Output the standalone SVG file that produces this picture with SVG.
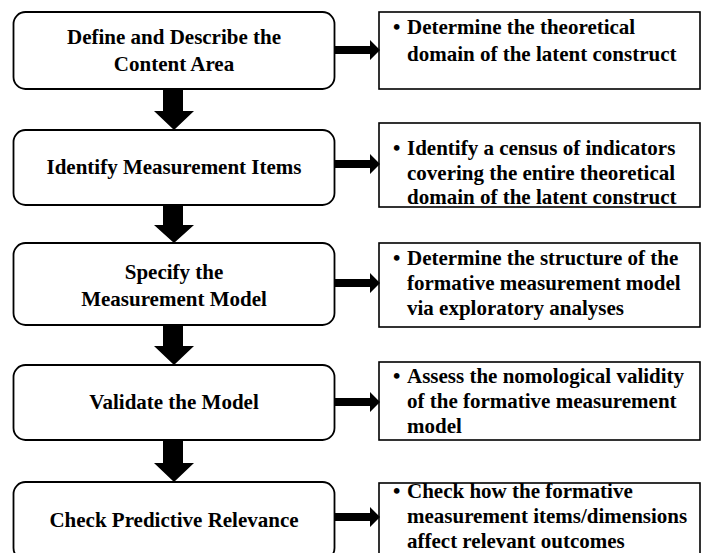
<svg xmlns="http://www.w3.org/2000/svg" width="701" height="553" viewBox="0 0 701 553">
  <style>
    .step { fill: #ffffff; stroke: #000000; stroke-width: 1.8; }
    .note { fill: #ffffff; stroke: #000000; stroke-width: 1.6; }
    .label { font-family: "Liberation Serif", "Times New Roman", serif; font-weight: bold; font-size: 21px; fill: #000000; }
    .mid { text-anchor: middle; }
    .arrow { fill: #000000; }
  </style>
  <rect width="701" height="553" fill="#ffffff"/>

  <!-- process steps (left column) -->
  <g id="step-define">
    <rect class="step" x="13.5" y="12" width="321" height="77" rx="12"/>
    <text class="label mid" x="174" y="44">Define and Describe the</text>
    <text class="label mid" x="174" y="71">Content Area</text>
  </g>
  <g id="step-identify">
    <rect class="step" x="13.5" y="130" width="321" height="75" rx="12"/>
    <text class="label mid" x="174" y="174">Identify Measurement Items</text>
  </g>
  <g id="step-specify">
    <rect class="step" x="13.5" y="243" width="321" height="82" rx="12"/>
    <text class="label mid" x="174" y="279">Specify the</text>
    <text class="label mid" x="174" y="306">Measurement Model</text>
  </g>
  <g id="step-validate">
    <rect class="step" x="13.5" y="365" width="321" height="75" rx="12"/>
    <text class="label mid" x="174" y="409">Validate the Model</text>
  </g>
  <g id="step-predict">
    <rect class="step" x="13.5" y="482" width="321" height="78" rx="12"/>
    <text class="label mid" x="174" y="527">Check Predictive Relevance</text>
  </g>

  <!-- descriptions (right column) -->
  <g id="note-define">
    <rect class="note" x="379" y="12" width="321" height="77"/>
    <text class="label" x="393" y="34">•</text>
    <text class="label" x="407" y="34">Determine the theoretical</text>
    <text class="label" x="407" y="61">domain of the latent construct</text>
  </g>
  <g id="note-identify">
    <rect class="note" x="379" y="123" width="321" height="84"/>
    <text class="label" x="393" y="155">•</text>
    <text class="label" x="407" y="155">Identify a census of indicators</text>
    <text class="label" x="407" y="180">covering the entire theoretical</text>
    <text class="label" x="407" y="204">domain of the latent construct</text>
  </g>
  <g id="note-specify">
    <rect class="note" x="379" y="243" width="321" height="84"/>
    <text class="label" x="393" y="265">•</text>
    <text class="label" x="407" y="265">Determine the structure of the</text>
    <text class="label" x="407" y="290">formative measurement model</text>
    <text class="label" x="407" y="315">via exploratory analyses</text>
  </g>
  <g id="note-validate">
    <rect class="note" x="379" y="362" width="321" height="78"/>
    <text class="label" x="393" y="383">•</text>
    <text class="label" x="407" y="383">Assess the nomological validity</text>
    <text class="label" x="407" y="408">of the formative measurement</text>
    <text class="label" x="407" y="433">model</text>
  </g>
  <g id="note-predict">
    <rect class="note" x="379" y="483" width="321" height="80"/>
    <text class="label" x="393" y="498">•</text>
    <text class="label" x="407" y="498">Check how the formative</text>
    <text class="label" x="407" y="523">measurement items/dimensions</text>
    <text class="label" x="407" y="548">affect relevant outcomes</text>
  </g>

  <!-- block arrows -->
  <g id="connectors">
    <!-- downward flow between steps -->
    <polygon class="arrow" points="163,89 183,89 183,111 194,111 174,130 154,111 163,111"/>
    <polygon class="arrow" points="163,205 183,205 183,225 194,225 174,243 154,225 163,225"/>
    <polygon class="arrow" points="163,325 183,325 183,346 194,346 174,365 154,346 163,346"/>
    <polygon class="arrow" points="163,440 183,440 183,463 194,463 174,482 154,463 163,463"/>
    <!-- step to description -->
    <polygon class="arrow" points="335,46 370,46 370,40 380,50 370,60 370,54 335,54"/>
    <polygon class="arrow" points="335,160 370,160 370,154 380,164 370,174 370,168 335,168"/>
    <polygon class="arrow" points="335,279 370,279 370,273 380,283 370,293 370,287 335,287"/>
    <polygon class="arrow" points="335,398 370,398 370,392 380,402 370,412 370,406 335,406"/>
    <polygon class="arrow" points="335,513 370,513 370,507 380,517 370,527 370,521 335,521"/>
  </g>
</svg>
